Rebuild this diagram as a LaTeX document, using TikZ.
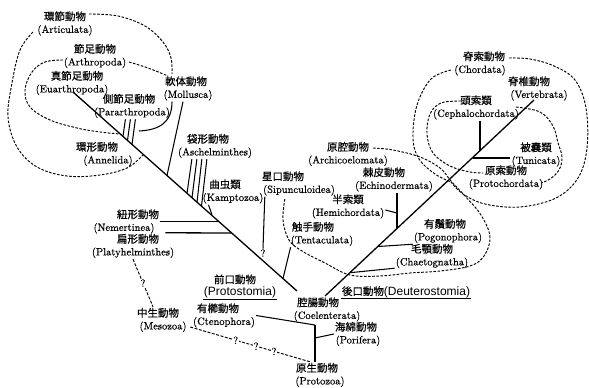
\documentclass[tikz,border=0pt]{standalone}
\usepackage{fontspec}
\setmainfont{Latin Modern Roman}[FakeBold=0.5]
\newfontfamily\jpfont{Noto Sans CJK JP}[FakeBold=0.6]
\newfontfamily\latsans{Liberation Sans}
\usetikzlibrary{calc}
\tikzset{
    taxon/.style={align=center, inner sep=1pt, font=\fontsize{10.5}{12.6}\selectfont},
    qmark/.style={inner sep=0.6pt, fill=white, font=\fontsize{10.5}{12}\selectfont},
    trunk/.style={line width=1.3pt},
    branch/.style={line width=1.05pt},
    grouploop/.style={line width=0.95pt, dash pattern=on 2.6pt off 1.5pt},
    qline/.style={line width=0.95pt, dash pattern=on 3pt off 1.5pt}
}
\newcommand{\taxa}[3][0pt]{{\jpfont #2}\hspace*{#1}\\(#3)}

\begin{document}
\begin{tikzpicture}[x=1pt, y=-1pt]
    \useasboundingbox (0,0) rectangle (589,388);
    \coordinate (lt) at (73,92);
    \coordinate (lb) at (297,291);
    \coordinate (rb) at (325,296);
    \coordinate (rt) at (534,100);
    \coordinate (vt) at (315,325);
    \coordinate (vb) at (315,362);
    \coordinate (vp) at (315,338);

    % protostome side
    \node[taxon] (art) at (65,23.5) {\taxa{環節動物}{Articulata}};
    \node[taxon] (arth) at (95,56) {\taxa{節足動物}{Arthropoda}};
    \node[taxon] (euar) at (72,83) {\taxa[-10pt]{真節足動物}{Euarthropoda}};
    \node[taxon] (parar) at (132,106) {\taxa[6pt]{側節足動物}{Pararthropoda}};
    \node[taxon] (moll) at (188,88.5) {\taxa[4pt]{軟体動物}{Mollusca}};
    \node[taxon] (anne) at (108,154) {\taxa[22pt]{環形動物}{Annelida}};
    \node[taxon] (asch) at (215,146) {\taxa[14pt]{袋形動物}{Aschelminthes}};
    \node[taxon] (kamp) at (233,191.5) {\taxa[16pt]{曲虫類}{Kamptozoa}};
    \node[taxon] (neme) at (124,221.5) {\taxa[-28pt]{紐形動物}{Nemertinea}};
    \node[taxon] (platy) at (133,246) {\taxa[-10pt]{扁形動物}{Platyhelminthes}};
    \node[taxon] (meso) at (163,320) {\taxa[10pt]{中生動物}{Mesozoa}};
    \node[taxon] (proto) at (240,286.5) {{\jpfont 前口動物}\hspace*{10pt}\\{\latsans\fontsize{12}{12.6}\selectfont (Protostomia)}};
    \node[taxon] (cten) at (224,315.5) {\taxa[12pt]{有櫛動物}{Ctenophora}};
    \node[taxon] (coel) at (327,309.5) {\taxa[18pt]{腔腸動物}{Coelenterata}};
    \node[taxon] (porif) at (358,334) {\taxa[4pt]{海綿動物}{Porifera}};
    \node[taxon] (protz) at (320,375) {\taxa[6pt]{原生動物}{Protozoa}};
    % deuterostome side
    \node[taxon] (deut) at (406,292) {{\jpfont 後口動物}{\latsans\fontsize{12}{12.6}\selectfont (Deuterostomia)}};
    \node[taxon] (arch) at (348,154) {\taxa{原腔動物}{Archicoelomata}};
    \node[taxon] (echi) at (394,179.5) {\taxa[20pt]{棘皮動物}{Echinodermata}};
    \node[taxon] (hemi) at (348,206.5) {\taxa{半索類}{Hemichordata}};
    \node[taxon] (sip) at (299,183.5) {\taxa[32pt]{星口動物}{Sipunculoidea}};
    \node[taxon] (tent) at (322,234) {\taxa[18pt]{触手動物}{Tentaculata}};
    \node[taxon] (pogo) at (448,231) {\taxa[6pt]{有鬚動物}{Pogonophora}};
    \node[taxon] (chae) at (432,256) {\taxa{毛顎動物}{Chaetognatha}};
    \node[taxon] (chor) at (480,63.5) {\taxa[-8pt]{脊索動物}{Chordata}};
    \node[taxon] (vert) at (539,88.5) {\taxa[20pt]{脊椎動物}{Vertebrata}};
    \node[taxon] (ceph) at (476,107.5) {\taxa{頭索類}{Cephalochordata}};
    \node[taxon] (tuni) at (536,154.5) {\taxa{被嚢類}{Tunicata}};
    \node[taxon] (prch) at (506,177.5) {\taxa{原索動物}{Protochordata}};
    \node[qmark] (sipq) at (263,253) {?};

    % main stems
    \draw[trunk] (lt) -- (lb);
    \draw[trunk] (rb) -- (rt);
    \draw[branch] (proto.south west) -- (proto.south east);
    \draw[branch] (deut.south west) -- (deut.south east);

    % branches onto the protostome stem
    \foreach \dx/\bx/\by in {32.5/123/136.4, 37.5/127.5/140.4, 42.5/132/144.4}
        \draw[branch] ([xshift=\dx pt]parar.south west) -- (\bx,\by);
    \draw[branch] ([xshift=-5pt]moll.south) -- (167,175.5);
    \draw[branch] ([xshift=-16pt]moll.south) .. controls (172,122) and (160,130) .. (139,131);
    \foreach \dx/\bx/\by in {15/187/193.3, 20/192/197.8, 25/197/202.2, 30/201.5/206.1}
        \draw[branch] ([xshift=\dx pt]asch.south west) -- (\bx,\by);
    \draw[branch] ([xshift=7pt]kamp.south west) -- (212,214.8);
    \draw[trunk] ([xshift=4pt]neme.east) -- (218.8,221.5);
    \draw[trunk] ([xshift=-10pt]platy.north east) -- (231.8,233);
    \draw[branch] ([xshift=1pt]tent.south west) -- (283,278.5);
    \draw[branch] ([xshift=4pt]sip.south west) -- (sipq.north);
    \draw[qline] (platy.south) -- node[qmark]{?} ([xshift=-10pt]meso.north);
    \draw[qline] ([yshift=-7pt]meso.east) -- node[qmark, pos=.38]{?} node[qmark, pos=.55]{?} node[qmark, pos=.7]{?} ([xshift=-10pt]protz.north);
    \draw[branch] (cten.east) -- (vt);
    \draw[branch] (vt) -- (vb);
    \draw[branch] (vp) -- (porif.west);

    % branches onto the deuterostome stem
    \draw[branch] ([xshift=3pt]echi.south) -- (397,228.8);
    \draw[branch] ([yshift=-3.5pt]hemi.east) -- (397,213);
    \draw[branch] (378,246.5) -- (pogo.south west);
    \draw[branch] (350,272.7) -- ([yshift=1pt]chae.south west);
    \draw[branch] ([xshift=4pt]ceph.south) -- (480,151.4);
    \draw[branch] (472.9,158) -- ([yshift=-3.5pt]tuni.west);

    % group outlines
    \draw[grouploop] plot[smooth, tension=.6] coordinates {(89,14) (118,16) (145,26) (163,42) (171,58) (172,74)};
    \draw[grouploop] plot[smooth, tension=.6] coordinates {(33,32) (20,50) (12,83) (8,117) (17,147) (37,167) (67,176) (100,175) (127,168) (143,155)};
    \draw[grouploop] plot[smooth, tension=.6] coordinates {(129,62) (148,68) (168,76)};
    \draw[grouploop] plot[smooth, tension=.6] coordinates {(63,60) (45,62) (32,72) (25,90) (30,107) (50,120) (77,128) (100,132) (120,134)};
    \draw[grouploop] plot[smooth, tension=.6] coordinates {(373,148) (393,150) (420,157) (440,168) (451,181) (465,196) (481,215) (490,237) (484,256) (470,266) (440,271) (410,273) (380,276) (350,275) (325,263) (302,251) (289,240) (283,220) (285,198)};
    \draw[grouploop] plot[smooth, tension=.6] coordinates {(451,70) (431,79) (417,105) (413,138) (419,159) (435,174) (451,182)};
    \draw[grouploop] plot[smooth, tension=.6] coordinates {(509,58) (530,59) (554,66) (575,80) (586,108) (587,148) (578,178) (556,198) (520,207) (485,204) (463,194) (451,182)};
    \draw[grouploop] plot[smooth, tension=.6] coordinates {(461,101) (441,103) (430,114) (427,134) (433,153) (450,166) (470,172) (483,173)};
    \draw[grouploop] plot[smooth, tension=.6] coordinates {(516,107) (540,112) (553,126) (558,143) (562,157) (559,170) (550,179) (541,183)};
\end{tikzpicture}
\end{document}
